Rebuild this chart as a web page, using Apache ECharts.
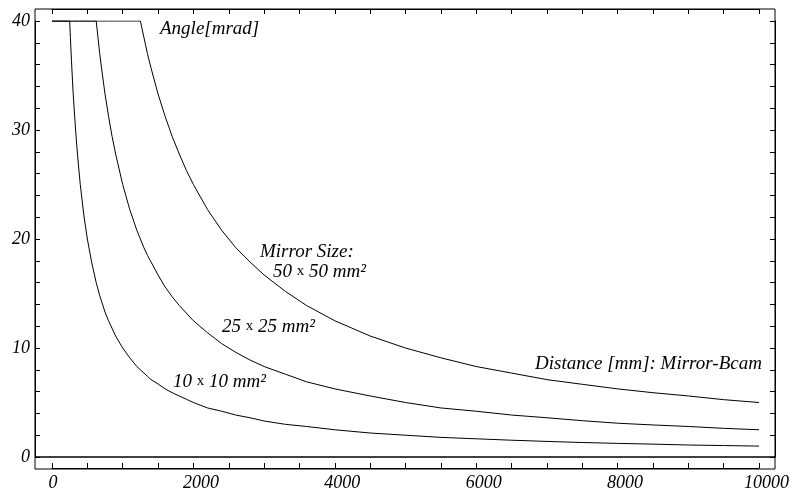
<!DOCTYPE html>
<html>
<head>
<meta charset="utf-8">
<script src="https://cdn.jsdelivr.net/npm/echarts@6/dist/echarts.min.js"></script>
<style>
  html, body { margin: 0; padding: 0; background: #fff; }
  #main { width: 793px; height: 492px; }
</style>
</head>
<body>
<div id="main"></div>
<script>
// distance Mirror-Bcam [mm]
const distance = [0, 250, 260, 275, 290, 300, 325, 350, 375, 400, 450, 500, 560, 625, 650, 675, 700,
  750, 800, 850, 900, 1000, 1100, 1200, 1250, 1300, 1350, 1400, 1500, 1600, 1700, 1800, 1900, 2000,
  2200, 2400, 2600, 2800, 3000, 3300, 3600, 4000, 4500, 5000, 5500, 6000, 6500, 7000, 7500, 8000,
  8500, 9000, 9500, 10000];

// angle [mrad] per mirror size
const angle10 = [40, 40, 38.5, 36.4, 34.5, 33.3, 30.8, 28.6, 26.7, 25, 22.2, 20, 17.9, 16, 15.4, 14.8, 14.3,
  13.3, 12.5, 11.8, 11.1, 10, 9.1, 8.3, 8, 7.7, 7.4, 7.1, 6.7, 6.25, 5.9, 5.6, 5.3, 5,
  4.5, 4.2, 3.85, 3.6, 3.3, 3.0, 2.8, 2.5, 2.2, 2, 1.8, 1.67, 1.54, 1.43, 1.33, 1.25,
  1.18, 1.1, 1.05, 1];
const angle25 = [40, 40, 40, 40, 40, 40, 40, 40, 40, 40, 40, 40, 40, 40, 38.5, 37, 35.7,
  33.3, 31.25, 29.4, 27.8, 25, 22.7, 20.8, 20, 19.2, 18.5, 17.9, 16.7, 15.6, 14.7, 13.9, 13.2, 12.5,
  11.4, 10.4, 9.6, 8.9, 8.3, 7.6, 6.9, 6.25, 5.6, 5, 4.5, 4.2, 3.85, 3.6, 3.33, 3.1,
  2.94, 2.8, 2.63, 2.5];
const angle50 = [40, 40, 40, 40, 40, 40, 40, 40, 40, 40, 40, 40, 40, 40, 40, 40, 40,
  40, 40, 40, 40, 40, 40, 40, 40, 38.5, 37, 35.7, 33.3, 31.25, 29.4, 27.8, 26.3, 25,
  22.7, 20.8, 19.2, 17.9, 16.7, 15.2, 13.9, 12.5, 11.1, 10, 9.1, 8.3, 7.7, 7.1, 6.67, 6.25,
  5.9, 5.6, 5.26, 5];

const chart = echarts.init(document.getElementById('main'));

const font = 'Liberation Serif';
const labelStyle = { color: '#000', fontStyle: 'italic', fontFamily: font, fontSize: 18 };

function pairs(ys) {
  return distance.map((d, i) => [d, ys[i]]);
}

function lineSeries(ys) {
  return {
    type: 'line',
    data: pairs(ys),
    showSymbol: false,
    silent: true,
    lineStyle: { color: '#000', width: 1 },
    xAxisIndex: 0,
    yAxisIndex: 0
  };
}

const tickOpts = { show: true, inside: true, length: 5, lineStyle: { color: '#000' } };
const lineOpts = { show: true, onZero: false, lineStyle: { color: '#000', width: 1 } };

function annot(x, y, text) {
  return {
    type: 'text', left: x, top: y,
    style: { text: text, fill: '#000', font: 'italic 19px "' + font + '"' }
  };
}

function sizeLabel(x, y, a) {
  return {
    type: 'text', left: x, top: y,
    style: {
      text: '{i|' + a + ' }{u|x}{i| ' + a + ' mm²}',
      rich: {
        i: { font: 'italic 19px "' + font + '"', fill: '#000' },
        u: { font: '15px "' + font + '"', fill: '#000' }
      }
    }
  };
}

const option = {
  animation: false,
  backgroundColor: '#fff',
  grid: { left: 52, right: 34, top: 21, bottom: 34 },
  xAxis: [
    {
      type: 'value', min: 0, max: 10000, interval: 500, offset: 11,
      axisLine: lineOpts,
      axisTick: tickOpts,
      axisLabel: Object.assign({
        margin: 6,
        formatter: v => {
          if (v % 2000 !== 0) return '';
          return v === 0 ? '{z|0}' : '{n|' + v + '}';
        },
        rich: {
          z: { padding: [0, 0, 0, 2] },
          n: { padding: [0, 0, 0, 15] }
        }
      }, labelStyle),
      splitLine: { show: false }
    },
    {
      type: 'value', position: 'top', min: 0, max: 10000, interval: 500, offset: 12,
      axisLine: lineOpts,
      axisTick: tickOpts,
      axisLabel: { show: false },
      splitLine: { show: false }
    }
  ],
  yAxis: [
    {
      type: 'value', min: 0, max: 40, interval: 2, offset: 17,
      axisLine: lineOpts,
      axisTick: tickOpts,
      axisLabel: Object.assign({
        margin: 5,
        formatter: v => (v % 10 === 0 ? String(v) : '')
      }, labelStyle),
      splitLine: { show: false }
    },
    {
      type: 'value', position: 'right', min: 0, max: 40, interval: 2, offset: 16,
      axisLine: lineOpts,
      axisTick: tickOpts,
      axisLabel: { show: false },
      splitLine: { show: false }
    }
  ],
  series: [lineSeries(angle10), lineSeries(angle25), lineSeries(angle50)]
};

chart.setOption(option);

// frame and zero line
const y0 = chart.convertToPixel({ yAxisIndex: 0 }, 0);
chart.setOption({
  graphic: [
    {
      type: 'rect',
      shape: { x: 35, y: 9, width: 740, height: 460 },
      style: { fill: 'none', stroke: '#000', lineWidth: 1 },
      silent: true
    },
    {
      type: 'line',
      shape: { x1: 35, y1: y0, x2: 775, y2: y0 },
      style: { stroke: '#000', lineWidth: 1.6 },
      silent: true
    },
    annot(160, 19, 'Angle[mrad]'),
    annot(260, 242, 'Mirror Size:'),
    sizeLabel(273, 262, '50'),
    sizeLabel(222, 317, '25'),
    sizeLabel(173, 372, '10'),
    annot(535, 354, 'Distance [mm]: Mirror-Bcam')
  ]
});
</script>
</body>
</html>
